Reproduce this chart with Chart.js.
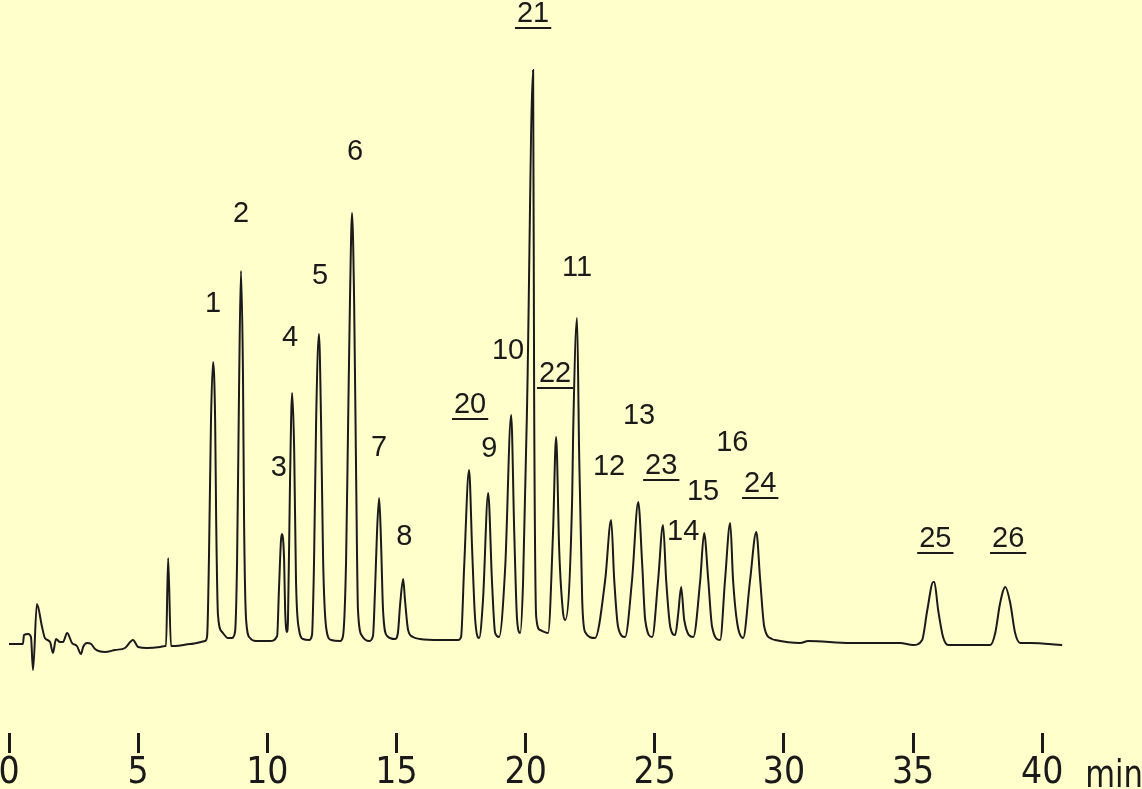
<!DOCTYPE html>
<html>
<head>
<meta charset="utf-8">
<script src="https://cdn.jsdelivr.net/npm/chart.js@4.4.1/dist/chart.umd.min.js"></script>
<style>
  html, body { margin: 0; padding: 0; background: #FFFFCC; }
  #wrap { width: 1142px; height: 789px; }
</style>
</head>
<body>
<div id="wrap"><canvas id="c" width="1142" height="789"></canvas></div>
<script>
// Retention time (min) and detector signal (arbitrary units)
const times = [
  0.00, 0.54, 0.58, 0.74, 0.85, 0.93, 1.08, 1.28, 1.39, 1.59, 1.70, 1.82, 1.97, 2.09, 2.25, 2.44,
  2.63, 2.79, 2.87, 3.02, 3.18, 3.33, 3.72, 4.10, 4.49, 4.80, 5.00, 5.34, 5.85, 6.04, 6.08, 6.16,
  6.27, 6.43, 7.01, 7.59,
  7.67, 7.74, 7.82, 7.90, 7.98, 8.02, 8.09, 8.25, 8.48, 8.63,
  8.75, 8.83, 8.91, 8.98, 9.06, 9.10, 9.18, 9.33, 9.56, 10.11,
  10.38, 10.45, 10.53, 10.57, 10.65, 10.69, 10.76,
  10.80, 10.88, 10.96, 11.04, 11.11, 11.23, 11.38, 11.62,
  11.73, 11.81, 11.89, 12.00, 12.08, 12.16, 12.28, 12.47, 12.82,
  12.93, 13.05, 13.13, 13.20, 13.28, 13.36, 13.44, 13.51, 13.67, 13.94,
  14.09, 14.17, 14.25, 14.33, 14.40, 14.48, 14.64, 14.95,
  15.06, 15.14, 15.26, 15.33, 15.45, 15.64, 15.91, 16.69, 17.39,
  17.50, 17.62, 17.81, 17.93, 18.04, 18.20,
  18.35, 18.55, 18.70, 18.82, 18.97,
  19.21, 19.44, 19.56, 19.67, 19.79,
  19.90, 20.06, 20.29, 20.33, 20.41, 20.56, 20.87,
  21.06, 21.18, 21.30, 21.45, 21.53,
  21.80, 21.84, 21.99, 22.07, 22.19, 22.30, 22.69,
  23.08, 23.31, 23.43, 23.58, 23.85,
  24.12, 24.36, 24.51, 24.63, 24.90,
  25.13, 25.32, 25.44, 25.60, 25.79,
  25.91, 26.02, 26.14, 26.49,
  26.76, 26.91, 27.07, 27.22, 27.53,
  27.72, 27.92, 28.03, 28.19, 28.42,
  28.69, 28.93, 29.08, 29.24, 29.54, 29.66,
  30.63, 30.94, 32.57, 34.50,
  35.00, 35.35, 35.55, 35.78, 35.82, 35.97, 36.16, 36.36, 37.99,
  38.18, 38.37, 38.57, 38.76, 38.95, 39.15, 39.54, 40.77
];
const signal = [
  1, 1, 10, 11, 8, -25, 41, 18, 7, 3, -8, 6, 3, 3, 12, 2,
  -1, -9, -2, 2, 1, -4, -7, -5, -3, 5, -2, -3, -2, -1, -1, 87,
  -1, -1, 1, 4,
  9, 85, 225, 283, 225, 125, 30, 13, 7, 7,
  13, 85, 265, 374, 265, 125, 25, 7, 4, 4,
  9, 55, 105, 111, 85, 35, 13,
  25, 165, 252, 195, 65, 15, 6, 5,
  10, 85, 225, 311, 225, 85, 17, 5, 4,
  9, 85, 225, 345, 432, 345, 165, 35, 9, 4,
  9, 55, 115, 147, 105, 35, 9, 6,
  13, 40, 66, 45, 15, 8, 6, 5, 5,
  8, 78, 175, 95, 28, 7,
  45, 152, 62, 12, 8,
  78, 230, 112, 25, 12,
  62, 245, 575, 245, 28, 15, 12,
  112, 208, 95, 32, 25,
  145, 212, 327, 195, 45, 13, 7,
  65, 125, 65, 18, 8,
  65, 143, 82, 25, 8,
  65, 120, 65, 18, 10,
  32, 58, 25, 8,
  65, 112, 65, 18, 5,
  65, 122, 65, 22, 7,
  65, 113, 65, 18, 6, 5,
  2, 4, 2, 2,
  0, 5, 35, 63, 63, 35, 8, 0, 0,
  12, 42, 58, 42, 12, 2, 2, 0
];
// Axis ticks (min)
const tickValues = [0, 5, 10, 15, 20, 25, 30, 35, 40];
const axisUnit = 'min';
// Peak annotations
const peakNames  = ['1','2','3','4','5','6','7','8','20','9','10','21','22','11','12','13','23','14','15','16','24','25','26'];
const peakTimes  = [7.90, 8.98, 10.45, 10.88, 12.04, 13.40, 14.33, 15.30, 17.85, 18.59, 19.32, 20.29, 21.14, 21.99, 23.23, 24.39, 25.25, 26.10, 26.87, 28.00, 29.08, 35.86, 38.68];
const peakLevels = [341, 431, 177, 307, 369, 493, 197, 108, 240, 196, 294, 631, 271, 377, 178, 229, 179, 113, 153, 202, 161, 106, 106];
const peakUnderlined = [false,false,false,false,false,false,false,false,true,false,false,true,true,false,false,false,true,false,false,false,true,true,true];

const BG = '#FFFFCC';
const INK = '#1a1a1a';
const AXIS_FONT = "'Liberation Sans Narrow', 'DejaVu Sans Condensed', sans-serif";
const LABEL_FONT = "'Liberation Sans', Arial, sans-serif";

const bgPlugin = {
  id: 'bg',
  beforeDraw(chart) {
    const ctx = chart.ctx;
    ctx.save();
    ctx.fillStyle = BG;
    ctx.fillRect(0, 0, chart.width, chart.height);
    ctx.restore();
  }
};

const labelPlugin = {
  id: 'peakLabels',
  afterDatasetsDraw(chart) {
    const ctx = chart.ctx;
    const xs = chart.scales.x, ys = chart.scales.y;
    ctx.save();
    ctx.fillStyle = INK;
    ctx.strokeStyle = INK;
    ctx.font = '29px ' + LABEL_FONT;
    ctx.textAlign = 'center';
    ctx.textBaseline = 'middle';
    peakNames.forEach((name, i) => {
      const x = xs.getPixelForValue(peakTimes[i]);
      const y = ys.getPixelForValue(peakLevels[i]);
      ctx.fillText(name, x, y);
      if (peakUnderlined[i]) {
        const w = ctx.measureText(name).width;
        ctx.lineWidth = 2;
        ctx.beginPath();
        ctx.moveTo(x - w / 2 - 2, y + 14);
        ctx.lineTo(x + w / 2 + 2, y + 14);
        ctx.stroke();
      }
    });
    // unit label after last tick
    const lastTick = xs.getPixelForValue(tickValues[tickValues.length - 1]);
    ctx.font = '37px ' + AXIS_FONT;
    ctx.textAlign = 'left';
    ctx.textBaseline = 'alphabetic';
    ctx.translate(lastTick + 43, 787);
    ctx.scale(0.92, 1);
    ctx.fillText(axisUnit, 0, 0);
    ctx.restore();
  }
};

new Chart(document.getElementById('c'), {
  type: 'line',
  data: {
    datasets: [{
      data: times.map((t, i) => ({ x: t, y: signal[i] })),
      borderColor: INK,
      borderWidth: 2,
      pointRadius: 0,
      fill: false,
      cubicInterpolationMode: 'monotone'
    }]
  },
  options: {
    responsive: false,
    animation: false,
    devicePixelRatio: 1,
    layout: { padding: { left: 9, right: 61, top: 0, bottom: 0 } },
    plugins: { legend: { display: false }, tooltip: { enabled: false } },
    scales: {
      x: {
        type: 'linear',
        min: 0,
        max: 41.5,
        afterBuildTicks(scale) { scale.ticks = tickValues.map(v => ({ value: v })); },
        afterFit(scale) { scale.height = 56; scale.paddingLeft = 0; scale.paddingRight = 0; },
        border: { display: false },
        grid: { drawOnChartArea: false, drawTicks: true, tickLength: 20, tickWidth: 3, tickColor: INK },
        ticks: {
          includeBounds: false,
          color: INK,
          padding: 3,
          maxRotation: 0,
          autoSkip: false,
          font: { family: AXIS_FONT, size: 37, lineHeight: 0.95 },
          callback: v => String(v)
        }
      },
      y: {
        display: false,
        min: -88,
        max: 645
      }
    }
  },
  plugins: [bgPlugin, labelPlugin]
});
</script>
</body>
</html>
